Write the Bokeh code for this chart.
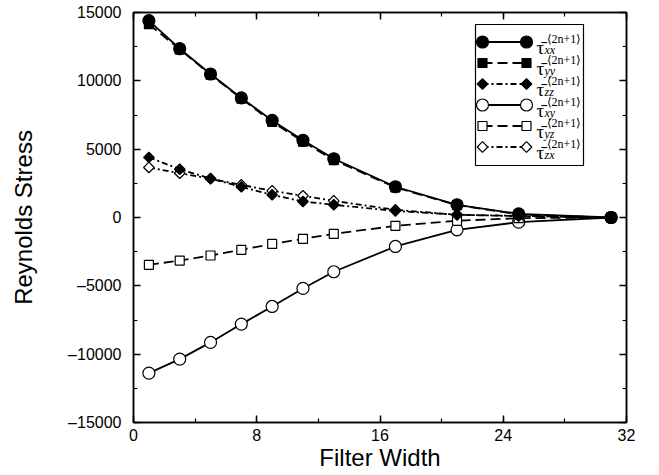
import numpy as np
from bokeh.plotting import figure
from bokeh.models import LinearAxis, SingleIntervalTicker, Range1d, CustomJSTickFormatter
from bokeh.core.properties import value
from bokeh.embed import file_html
from bokeh.resources import INLINE

# ---------------- data ----------------
filter_width = [1, 3, 5, 7, 9, 11, 13, 17, 21, 25, 31]
tau_xx = [14400, 12350, 10500, 8750, 7100, 5650, 4300, 2250, 930, 270, 0]
tau_yy = [14150, 12300, 10450, 8700, 7000, 5550, 4200, 2200, 900, 220, 0]
tau_zz = [4400, 3530, 2850, 2240, 1660, 1170, 930, 480, 200, 100, 0]
tau_xy = [-11390, -10360, -9140, -7800, -6510, -5190, -3970, -2120, -900, -340, 0]
tau_yz = [-3460, -3150, -2780, -2370, -1930, -1560, -1200, -610, -240, -50, 0]
tau_zx = [3660, 3240, 2830, 2390, 1950, 1590, 1220, 560, 200, 120, 0]
subscripts = ["xx", "yy", "zz", "xy", "yz", "zx"]
x_ticks = [0, 8, 16, 24, 32]
y_ticks = [-15000, -10000, -5000, 0, 5000, 10000, 15000]

# ---------------- layout ----------------
W, H = 659, 475
FL, FR, FT, FB = 133, 626, 12, 422
X0, X1, Y0, Y1 = 0, 32, -15000, 15000

p = figure(width=W, height=H, output_backend="svg", toolbar_location=None,
           x_range=Range1d(X0, X1), y_range=Range1d(Y0, Y1),
           min_border_left=FL, min_border_right=W - FR,
           min_border_top=FT, min_border_bottom=H - FB,
           background_fill_color="white", border_fill_color="white")
p.grid.visible = False
p.outline_line_color = "black"
p.outline_line_width = 1.5

AX_FONT = "Liberation Sans"


def style_axis(ax, ticker, show_labels):
    ax.ticker = ticker
    ax.axis_line_color = "black"
    ax.axis_line_width = 1.5
    ax.major_tick_in = 7
    ax.major_tick_out = 0
    ax.minor_tick_in = 4
    ax.minor_tick_out = 0
    ax.major_tick_line_width = 1.5
    ax.minor_tick_line_width = 1.2
    ax.major_tick_line_color = "black"
    ax.minor_tick_line_color = "black"
    ax.major_label_text_font = AX_FONT
    ax.major_label_text_color = "black"
    ax.axis_label_text_font = AX_FONT
    ax.axis_label_text_font_style = "normal"
    ax.axis_label_text_color = "black"
    ax.major_label_text_font_size = "16px"
    if not show_labels:
        ax.formatter = CustomJSTickFormatter(code="return ''")
        ax.major_label_standoff = 0


xt = SingleIntervalTicker(interval=8, num_minor_ticks=2)
yt = SingleIntervalTicker(interval=5000, num_minor_ticks=2)

xa = p.xaxis[0]
style_axis(xa, xt, True)
xa.axis_label = "Filter Width"
xa.axis_label_text_font_size = "24px"
xa.major_label_standoff = 6
xa.axis_label_standoff = 0

ya = p.yaxis[0]
style_axis(ya, yt, True)
ya.axis_label = "Reynolds Stress"
ya.axis_label_text_font_size = "24px"
ya.major_label_standoff = 12
ya.axis_label_standoff = 28
ya.major_label_overrides = {v: (("\u2013" + str(abs(v))) if v < 0 else str(v)) for v in y_ticks}

top_ax = LinearAxis()
style_axis(top_ax, SingleIntervalTicker(interval=8, num_minor_ticks=2), False)
p.add_layout(top_ax, "above")
right_ax = LinearAxis()
style_axis(right_ax, SingleIntervalTicker(interval=5000, num_minor_ticks=2), False)
p.add_layout(right_ax, "right")

# ---------------- series ----------------
series = [
    # values, marker, fill, dash, angle, size
    (tau_xy, "circle", "white", "solid", 0.0, 12),
    (tau_yz, "square", "white", "10 5", 0.0, 9),
    (tau_zx, "square", "white", "6 3 2 3", np.pi / 4, 7.5),
    (tau_zz, "square", "black", "6 3 2 3", np.pi / 4, 7.5),
    (tau_yy, "square", "black", "10 5", 0.0, 9),
    (tau_xx, "circle", "black", "solid", 0.0, 12),
]
for ys, marker, fill, dash, ang, size in series:
    p.line(filter_width, ys, line_color="black", line_width=1.8, line_dash=dash)
    p.scatter(filter_width, ys, marker=marker, size=size, angle=ang,
              fill_color=fill, line_color="black", line_width=1.2)

# ---------------- legend (drawn by hand, positioned in pixels) ----------------
def sx(px):
    return X0 + (px - FL) / (FR - FL) * (X1 - X0)


def sy(py):
    return Y1 - (py - FT) / (FB - FT) * (Y1 - Y0)


p.quad(left=[sx(475)], right=[sx(583)], top=[sy(24)], bottom=[sy(165)],
       fill_color="white", line_color="black", line_width=1.2)

legend_order = [5, 4, 3, 0, 1, 2]  # xx, yy, zz, xy, yz, zx
for row, si in enumerate(legend_order):
    ys, marker, fill, dash, ang, size = series[si]
    yc = 41.5 + 21 * row
    lx = [sx(482), sx(526)]
    ly = [sy(yc), sy(yc)]
    p.line(lx, ly, line_color="black", line_width=1.8, line_dash=dash)
    p.scatter(lx, ly, marker=marker, size=size, angle=ang,
              fill_color=fill, line_color="black", line_width=1.2)
    p.text(x=[sx(536)], y=[sy(yc + 5.5)], text=["\u03c4\u0304"],
           text_font=value("Liberation Serif"), text_font_size="19px",
           text_baseline="alphabetic", text_align="left", text_color="black")
    p.text(x=[sx(544)], y=[sy(yc + 8)], text=[subscripts[row]],
           text_font=value("Liberation Serif"), text_font_style="italic",
           text_font_size="12px", text_baseline="alphabetic", text_align="left",
           text_color="black")
    p.text(x=[sx(546)], y=[sy(yc - 3.5)], text=["\u27e82n+1\u27e9"],
           text_font=value("Liberation Serif"), text_font_size="12px",
           text_baseline="alphabetic", text_align="left", text_color="black")

open("out.html", "w").write(file_html(p, INLINE))
